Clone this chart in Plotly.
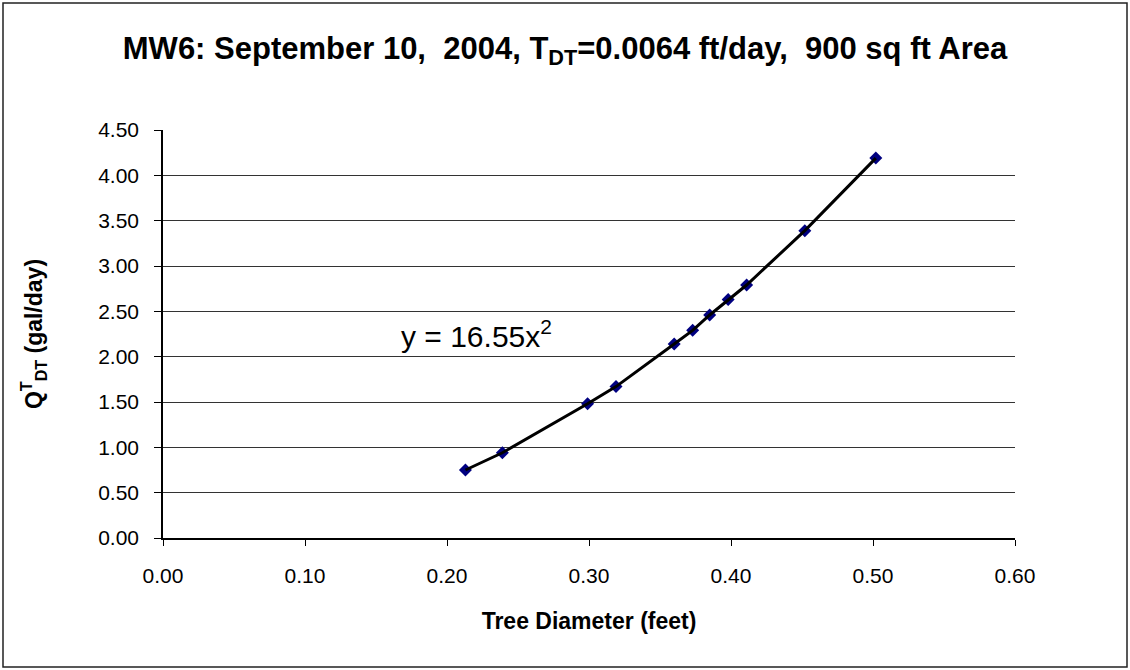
import plotly.graph_objects as go

# tree diameter (feet) and transpiration (gal/day)
diametro = [0.213, 0.239, 0.299, 0.319, 0.360, 0.373, 0.385, 0.398, 0.411, 0.452, 0.502]
caudal = [0.75, 0.94, 1.48, 1.67, 2.14, 2.29, 2.46, 2.63, 2.79, 3.39, 4.19]

x_ticks = [0.0, 0.1, 0.2, 0.3, 0.4, 0.5, 0.6]
y_ticks = [0.0, 0.5, 1.0, 1.5, 2.0, 2.5, 3.0, 3.5, 4.0, 4.5]

W, H = 1130, 670
M = dict(l=163, r=115, t=130, b=132)

fig = go.Figure()

fig.add_trace(go.Scatter(
    x=diametro, y=caudal, mode="markers",
    marker=dict(symbol="diamond", size=10, color="#000080"),
    showlegend=False,
))
# trendline drawn over the markers
fig.add_trace(go.Scatter(
    x=diametro, y=caudal, mode="lines",
    line=dict(color="black", width=3),
    showlegend=False, hoverinfo="skip",
))

fig.add_annotation(
    x=0.166, y=2.02, xref="x", yref="y", xanchor="left", yanchor="bottom",
    text="y = 16.55x<sup>2</sup>", showarrow=False,
    font=dict(size=30, color="black"),
)

# outer frame round the whole chart
pw = W - M["l"] - M["r"]
ph = H - M["t"] - M["b"]
fig.add_shape(
    type="rect", xref="paper", yref="paper",
    x0=-(M["l"] - 3) / pw, x1=1 + (M["r"] - 3) / pw,
    y0=-(M["b"] - 3) / ph, y1=1 + (M["t"] - 3) / ph,
    line=dict(color="#222", width=1.5),
)

fig.update_layout(
    width=W, height=H,
    paper_bgcolor="white", plot_bgcolor="white",
    margin=M,
    font=dict(family="Liberation Sans, Arial, sans-serif", color="black"),
    title=dict(
        text="<b>MW6: September 10,  2004, T<sub>DT</sub>=0.0064 ft/day,  900 sq ft Area</b>",
        x=0.5, xref="container", xanchor="center",
        y=1 - 48 / H, yanchor="middle",
        font=dict(size=31, color="black"),
    ),
    xaxis=dict(
        range=[0, 0.6], tickvals=x_ticks, tickformat=".2f",
        showgrid=False, zeroline=False,
        showline=True, linecolor="black", linewidth=1.5,
        ticks="outside", ticklen=6, tickcolor="black",
        tickfont=dict(size=21), ticklabelstandoff=12,
        title=dict(text="<b>Tree Diameter (feet)</b>", font=dict(size=23), standoff=27),
    ),
    yaxis=dict(
        range=[0, 4.5], tickvals=y_ticks, tickformat=".2f",
        showgrid=True, gridcolor="#333", gridwidth=1,
        zeroline=False,
        showline=True, linecolor="black", linewidth=1.5,
        ticks="outside", ticklen=7, tickcolor="black",
        tickfont=dict(size=21), ticklabelstandoff=11,
        title=dict(text="<b>Q<sup>T</sup><sub>DT</sub> (gal/day)</b>", font=dict(size=23), standoff=49),
    ),
)

fig.write_html("out.html", config={"displayModeBar": False},
               post_script="document.body.style.margin='0';")
